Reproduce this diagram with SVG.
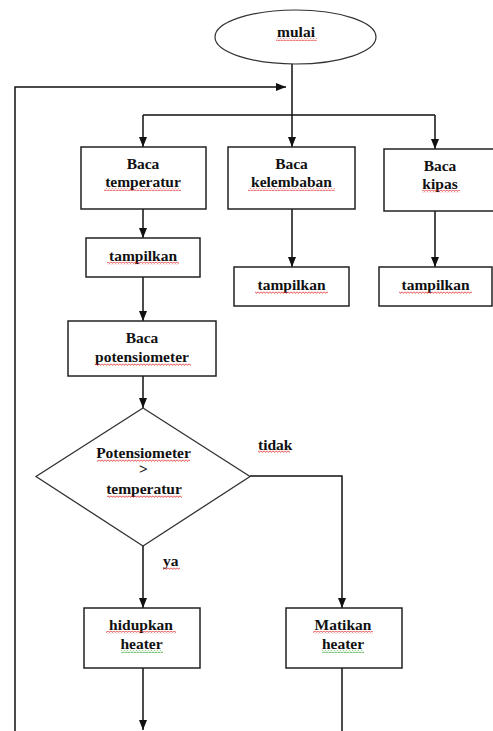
<svg xmlns="http://www.w3.org/2000/svg" width="493" height="731" viewBox="0 0 493 731">
<defs>
<marker id="arr" markerUnits="userSpaceOnUse" viewBox="0 0 10 8" refX="10" refY="4" markerWidth="10" markerHeight="8" orient="auto">
<path d="M0,0 L10,4 L0,8 z" fill="#111"/>
</marker>
<pattern id="sqr" patternUnits="userSpaceOnUse" width="3" height="3">
<path d="M0,0.6 L1.5,2.4 L3,0.6" fill="none" stroke="#e02020" stroke-width="0.8"/>
</pattern>
<pattern id="sqg" patternUnits="userSpaceOnUse" width="3" height="3">
<path d="M0,0.6 L1.5,2.4 L3,0.6" fill="none" stroke="#20a020" stroke-width="0.8"/>
</pattern>
</defs>
<style>
.box{fill:#fff;stroke:#222;stroke-width:1.5}
.t{font-family:"Liberation Serif","Times New Roman",serif;font-size:15.5px;font-weight:bold;fill:#111;text-anchor:middle}
.l{font-family:"Liberation Serif","Times New Roman",serif;font-size:15.5px;font-weight:bold;fill:#111}
.c{fill:none;stroke:#111;stroke-width:1.5}
.ca{fill:none;stroke:#111;stroke-width:1.5;marker-end:url(#arr)}
.sr{fill:url(#sqr)}
.sg{fill:url(#sqg)}
</style>
<rect width="493" height="731" fill="#fff"/>
<g id="connectors">
<path class="c" d="M143,115 L435,115"/>
<path class="ca" d="M292,64 L292,147"/>
<path class="ca" d="M143,115 L143,147"/>
<path class="ca" d="M435,115 L435,149"/>
<path class="ca" d="M15,731 L15,87 L286,87"/>
<path class="ca" d="M143,209 L143,238"/>
<path class="ca" d="M292,209 L292,267"/>
<path class="ca" d="M435,211 L435,267"/>
<path class="ca" d="M143,277 L143,321"/>
<path class="ca" d="M143,376 L143,408"/>
<path class="ca" d="M250,476 L342,476 L342,608"/>
<path class="ca" d="M143,546 L143,608"/>
<path class="ca" d="M143,668 L143,730"/>
<path class="c" d="M342,668 L342,731"/>
<text class="l" x="258" y="450">tidak</text>
<rect class="sr" x="258" y="450" width="32" height="3"/>
<text class="l" x="163" y="566">ya</text>
<rect class="sr" x="163" y="567" width="17" height="3"/>
</g>
<g id="mulai">
<ellipse cx="295.5" cy="37" rx="80.5" ry="27" fill="#fff" stroke="#333" stroke-width="1.2"/>
<text class="t" x="296" y="37">mulai</text>
<rect class="sr" x="276" y="38" width="41" height="3"/>
</g>
<g id="baca-temperatur">
<rect class="box" x="81" y="147" width="125" height="62"/>
<text class="t" x="143" y="169">Baca</text>
<text class="t" x="143" y="187">temperatur</text>
<rect class="sr" x="104" y="188" width="77" height="3"/>
</g>
<g id="baca-kelembaban">
<rect class="box" x="228" y="147" width="127" height="62"/>
<text class="t" x="291.5" y="169">Baca</text>
<text class="t" x="291.5" y="187">kelembaban</text>
<rect class="sr" x="248" y="188" width="87" height="3"/>
</g>
<g id="baca-kipas">
<rect class="box" x="384" y="149" width="112" height="62"/>
<text class="t" x="440" y="171">Baca</text>
<text class="t" x="440" y="189">kipas</text>
<rect class="sr" x="422" y="190" width="38" height="3"/>
</g>
<g id="tampilkan-1">
<rect class="box" x="86" y="238" width="114" height="39"/>
<text class="t" x="143" y="261">tampilkan</text>
<rect class="sr" x="107" y="262" width="72" height="3"/>
</g>
<g id="tampilkan-2">
<rect class="box" x="234" y="267" width="115" height="39"/>
<text class="t" x="291.5" y="290">tampilkan</text>
<rect class="sr" x="255" y="291" width="73" height="3"/>
</g>
<g id="tampilkan-3">
<rect class="box" x="379" y="267" width="113" height="39"/>
<text class="t" x="435.5" y="290">tampilkan</text>
<rect class="sr" x="399" y="291" width="73" height="3"/>
</g>
<g id="baca-potensiometer">
<rect class="box" x="68" y="321" width="148" height="55"/>
<text class="t" x="142" y="343">Baca</text>
<text class="t" x="142" y="362">potensiometer</text>
<rect class="sr" x="95" y="363" width="96" height="3"/>
</g>
<g id="decision">
<polygon points="143,408 250,476.5 143,546 36,476.5" fill="#fff" stroke="#333" stroke-width="1.3"/>
<text class="t" x="143.5" y="458">Potensiometer</text>
<rect class="sr" x="97" y="459" width="93" height="3"/>
<text class="t" x="143.5" y="474">&gt;</text>
<text class="t" x="144" y="494">temperatur</text>
<rect class="sr" x="107" y="495" width="75" height="3"/>
</g>
<g id="hidupkan-heater">
<rect class="box" x="84" y="608" width="116" height="60"/>
<text class="t" x="141" y="630">hidupkan</text>
<rect class="sr" x="106" y="631" width="70" height="3"/>
<text class="t" x="141.5" y="649">heater</text>
<rect class="sg" x="121" y="650" width="42" height="3"/>
</g>
<g id="matikan-heater">
<rect class="box" x="286" y="608" width="116" height="60"/>
<text class="t" x="343" y="630">Matikan</text>
<rect class="sr" x="313" y="631" width="60" height="3"/>
<text class="t" x="343" y="649">heater</text>
<rect class="sg" x="322" y="650" width="42" height="3"/>
</g>
</svg>
